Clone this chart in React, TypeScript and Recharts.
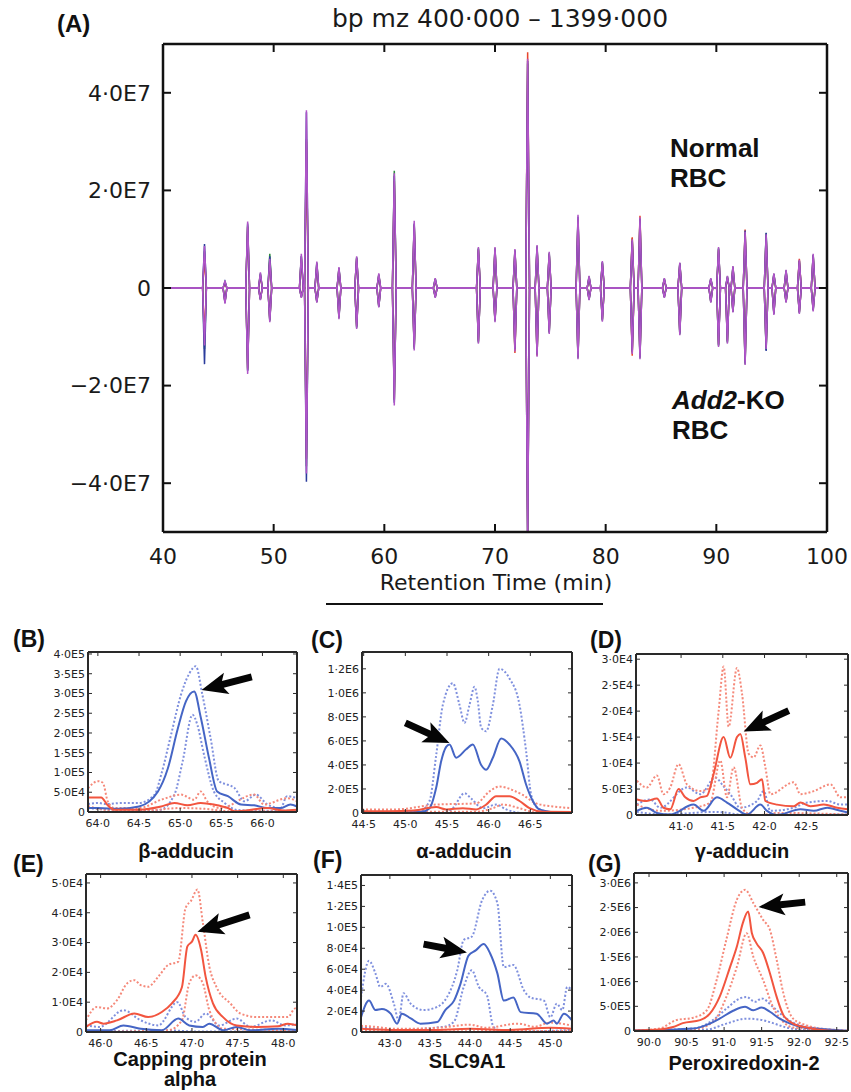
import React from "react";
import { Line, LineChart, ReferenceLine, XAxis, YAxis } from "recharts";

const TICK_FONT = "'DejaVu Sans', sans-serif";
const LABEL_FONT = "'Liberation Sans', Arial, sans-serif";

// ---- Panel A: mirrored base-peak chromatogram (values in 1e6) ----
const A_PEAK_TIMES = [
  43.75, 45.6, 47.65, 48.8, 49.65, 52.5, 52.96, 53.9, 55.9, 57.5, 59.5, 60.9, 62.7,
  64.6, 68.5, 70.0, 71.8, 72.95, 73.8, 74.9, 77.5, 78.5, 79.7, 82.4, 83.1, 85.3,
  86.7, 89.5, 90.2, 91.0, 91.5, 92.6, 94.5, 95.2, 96.3, 97.5, 98.75,
];
const A_NORMAL_PURPLE = [
  8.6, 1.5, 13.6, 3.2, 6.0, 7.0, 36.4, 5.4, 4.3, 6.5, 3.0, 23.5, 13.8,
  2.0, 8.4, 8.4, 8.0, 47.0, 8.8, 7.4, 15.0, 2.5, 5.5, 10.0, 14.5, 2.0,
  5.2, 2.0, 8.4, 2.5, 4.5, 11.5, 11.0, 3.0, 3.7, 5.8, 7.0,
];
const A_NORMAL_BLUE = [
  9.0, 1.3, 13.2, 2.8, 6.5, 6.5, 36.0, 5.0, 4.0, 6.2, 2.6, 23.0, 13.2,
  1.8, 8.0, 8.0, 7.6, 46.5, 8.4, 7.0, 14.6, 2.2, 5.2, 9.6, 14.2, 1.8,
  5.0, 1.8, 8.0, 2.2, 4.2, 11.8, 11.3, 2.8, 3.5, 5.5, 6.7,
];
const A_NORMAL_RED = [
  6.0, 1.0, 12.5, 2.5, 5.5, 6.0, 30.0, 4.6, 3.8, 6.0, 2.5, 22.0, 12.8,
  1.5, 7.8, 7.8, 7.5, 48.3, 8.0, 6.8, 14.0, 2.0, 5.0, 10.4, 14.8, 1.6,
  4.8, 1.6, 7.8, 2.0, 4.0, 12.0, 10.5, 2.6, 3.2, 6.0, 6.5,
];
const A_NORMAL_GREEN = [
  7.5, 1.2, 12.8, 3.0, 7.0, 6.5, 30.5, 5.2, 4.1, 6.3, 2.8, 24.0, 13.0,
  1.9, 8.2, 8.2, 7.8, 46.0, 8.6, 7.2, 14.2, 2.4, 5.3, 10.2, 14.0, 1.9,
  5.1, 1.9, 8.2, 2.4, 4.4, 11.0, 11.2, 2.9, 3.6, 5.6, 6.8,
];
const A_KO_PURPLE = [
  11.8, 3.2, 17.6, 2.5, 7.0, 2.0, 38.0, 3.0, 6.4, 8.4, 4.0, 24.1, 12.8,
  2.0, 11.4, 7.0, 13.0, 52.0, 14.1, 9.4, 14.6, 2.5, 6.9, 13.5, 14.6, 2.0,
  9.7, 3.0, 12.1, 11.4, 5.0, 15.8, 12.5, 5.5, 3.0, 5.3, 4.8,
];
const A_KO_BLUE = [
  15.6, 3.0, 17.0, 2.3, 6.6, 1.8, 39.7, 2.8, 6.0, 8.0, 3.8, 23.5, 12.2,
  1.8, 11.0, 6.6, 12.5, 51.0, 13.6, 9.0, 14.2, 2.3, 6.5, 13.0, 14.2, 1.8,
  9.3, 2.8, 11.7, 11.0, 4.8, 15.4, 12.9, 5.2, 2.8, 5.0, 4.5,
];
const A_KO_RED = [
  10.0, 2.8, 16.5, 2.2, 6.4, 1.7, 35.0, 2.7, 5.8, 7.8, 3.6, 22.8, 12.0,
  1.7, 10.8, 6.5, 13.3, 50.0, 13.9, 8.8, 14.0, 2.2, 6.4, 13.9, 14.0, 1.7,
  9.0, 2.7, 11.5, 10.8, 4.6, 15.0, 12.2, 5.0, 2.7, 4.9, 4.3,
];
const A_KO_GREEN = [
  12.5, 2.9, 16.8, 2.4, 6.8, 1.9, 36.5, 2.9, 6.2, 8.2, 3.9, 23.0, 12.5,
  1.9, 11.2, 6.8, 12.8, 51.0, 13.8, 9.2, 14.4, 2.4, 6.7, 13.2, 14.4, 1.9,
  9.5, 2.9, 11.9, 11.2, 4.9, 15.6, 12.7, 5.3, 2.9, 5.1, 4.6,
];
const A_X_TICKS = [40, 50, 60, 70, 80, 90, 100];
const A_Y_TICKS = [-4e7, -2e7, 0, 2e7, 4e7];

const A_TRACES = [
  { key: "ng", values: A_NORMAL_GREEN, sign: 1, color: "#2e8b3e" },
  { key: "nr", values: A_NORMAL_RED, sign: 1, color: "#e8462d" },
  { key: "nb", values: A_NORMAL_BLUE, sign: 1, color: "#2b3c9c" },
  { key: "kg", values: A_KO_GREEN, sign: -1, color: "#2e8b3e" },
  { key: "kr", values: A_KO_RED, sign: -1, color: "#e8462d" },
  { key: "kb", values: A_KO_BLUE, sign: -1, color: "#2b3c9c" },
  { key: "np", values: A_NORMAL_PURPLE, sign: 1, color: "#b055c8" },
  { key: "kp", values: A_KO_PURPLE, sign: -1, color: "#b055c8" },
];

// each peak is drawn as apex plus a zero point either side
function buildChromatogram() {
  const half = 0.17;
  const zero = (t: number) => {
    const row: Record<string, number> = { t };
    A_TRACES.forEach((tr) => (row[tr.key] = 0));
    return row;
  };
  const rows = [zero(40), zero(100)];
  A_PEAK_TIMES.forEach((t, i) => {
    const apex: Record<string, number> = { t };
    A_TRACES.forEach((tr) => (apex[tr.key] = tr.sign * tr.values[i] * 1e6));
    rows.push(zero(t - half), apex, zero(t + half));
  });
  return rows.sort((a, b) => a.t - b.t);
}

// ---- Panels B-G: [retention time, intensity in panel unit] ----
const B_BLUE = [[63.88, 1.0], [64.0, 1.0], [64.25, 0.8], [64.5, 1.4], [64.73, 5.2], [64.85, 11], [64.97, 21], [65.07, 28], [65.17, 30.5], [65.25, 24], [65.35, 13.7], [65.45, 5.2], [65.58, 4.0], [65.74, 1.9], [65.9, 1.7], [66.06, 1.0], [66.22, 1.0], [66.34, 1.9], [66.42, 1.4]];
const B_BLUE_HI = [[63.88, 2.0], [64.0, 2.3], [64.1, 2.0], [64.3, 2.3], [64.5, 2.3], [64.69, 4.4], [64.77, 9.5], [64.89, 19.6], [65.01, 29.7], [65.11, 35], [65.19, 36.9], [65.27, 29.7], [65.37, 18.7], [65.47, 7.8], [65.58, 6.9], [65.66, 6.1], [65.78, 2.7], [65.92, 4.4], [66.06, 1.9], [66.22, 1.0], [66.3, 4.0], [66.42, 3.5]];
const B_BLUE_LO = [[63.88, 1.0], [64.2, 0.5], [64.5, 0.3], [64.75, 0.5], [64.93, 4.4], [65.03, 12.8], [65.15, 24.6], [65.21, 22], [65.29, 14.5], [65.41, 5.2], [65.54, 2.3], [65.7, 0.5], [66.0, 0.3], [66.42, 0.3]];
const B_RED = [[63.88, 3.7], [64.04, 3.7], [64.12, 1.7], [64.2, 0.6], [64.5, 0.6], [64.77, 1.4], [64.93, 2.3], [65.09, 1.7], [65.25, 2.3], [65.41, 1.9], [65.58, 1.0], [65.66, 0.2], [65.8, 0.4], [66.06, 1.0], [66.25, 0.4], [66.42, 0.6]];
const B_RED_HI = [[63.88, 6.0], [64.0, 7.8], [64.06, 7.4], [64.12, 2.7], [64.2, 1.0], [64.5, 1.0], [64.77, 3.1], [65.01, 4.4], [65.17, 3.1], [65.25, 5.2], [65.33, 2.7], [65.49, 1.0], [65.9, 4.4], [66.02, 1.9], [66.3, 3.5], [66.42, 2.7]];
const B_RED_LO = [[63.88, 1.5], [64.1, 0.5], [64.5, 0.2], [65.0, 1.0], [65.3, 0.8], [65.6, 0.2], [66.42, 0.2]];

const C_BLUE = [[44.48, 0], [45.2, 0.1], [45.29, 0.4], [45.37, 2.1], [45.43, 4.3], [45.49, 5.5], [45.53, 5.7], [45.61, 4.6], [45.73, 5.3], [45.81, 5.7], [45.91, 4.0], [45.97, 3.6], [46.05, 4.6], [46.15, 6.2], [46.25, 5.7], [46.37, 4.3], [46.45, 2.35], [46.53, 1.0], [46.61, 0.3], [46.8, 0.05], [47.0, 0]];
const C_BLUE_HI = [[44.48, 0], [45.16, 0.1], [45.29, 1.0], [45.37, 4.8], [45.45, 9.0], [45.57, 10.8], [45.65, 9.0], [45.71, 7.5], [45.77, 9.0], [45.83, 10.5], [45.87, 9.3], [45.91, 7.1], [45.97, 6.8], [46.05, 9.0], [46.13, 12.0], [46.25, 11.2], [46.37, 9.0], [46.45, 5.1], [46.51, 1.5], [46.59, 0.4], [46.72, 0.1], [47.0, 0]];
const C_BLUE_LO = [[44.48, 0], [45.45, 0], [45.57, 0.4], [45.71, 1.65], [45.79, 1.2], [45.93, 0.4], [46.09, 0.7], [46.21, 0.3], [46.4, 0], [47.0, 0]];
const C_RED = [[44.48, 0.15], [44.8, 0.15], [45.1, 0.2], [45.37, 0.5], [45.49, 0.3], [45.69, 0.4], [45.85, 0.3], [45.97, 0.7], [46.09, 1.4], [46.25, 1.4], [46.37, 1.0], [46.49, 0.4], [46.65, 0.1], [47.0, 0.08]];
const C_RED_HI = [[44.48, 0.3], [44.88, 0.3], [45.37, 0.7], [45.85, 0.8], [46.01, 1.8], [46.13, 2.2], [46.29, 1.9], [46.41, 1.5], [46.57, 0.8], [46.77, 0.55], [47.0, 0.4]];
const C_RED_LO = [[44.48, 0.1], [45.85, 0.1], [46.05, 0.4], [46.17, 0.7], [46.37, 0.4], [46.57, 0.05], [47.0, 0.02]];

const D_BLUE = [[40.47, 0.8], [40.59, 1.4], [40.71, 0.4], [40.87, 0.1], [41.15, 2.0], [41.27, 0.8], [41.43, 3.4], [41.55, 2.4], [41.67, 1.1], [41.79, 0.1], [41.95, 2.0], [42.03, 0.8], [42.15, 0], [42.43, 1.1], [42.59, 0.8], [42.75, 1.4], [42.91, 0.8], [43.0, 0.5]];
const D_BLUE_HI = [[40.47, 2.0], [40.63, 3.0], [40.75, 1.4], [41.07, 5.3], [41.23, 4.0], [41.41, 7.2], [41.51, 5.5], [41.59, 4.0], [41.71, 1.4], [41.91, 2.7], [41.99, 4.6], [42.07, 0.8], [42.35, 1.4], [42.51, 2.4], [42.75, 2.7], [42.91, 2.0], [43.0, 2.0]];
const D_BLUE_LO = [[40.47, 0.6], [40.8, 0.1], [41.4, 0.6], [41.8, 0], [43.0, 0.1]];
const D_RED = [[40.47, 3.0], [40.59, 2.7], [40.71, 3.2], [40.79, 1.4], [40.87, 1.1], [40.97, 5.0], [41.05, 3.4], [41.15, 2.7], [41.23, 3.4], [41.31, 3.7], [41.39, 7.9], [41.51, 15], [41.59, 11], [41.67, 15], [41.71, 15.6], [41.77, 11], [41.83, 5.9], [41.91, 6.2], [41.97, 6.9], [42.01, 2.7], [42.15, 2.0], [42.35, 1.7], [42.43, 2.4], [42.55, 1.7], [42.71, 2.0], [42.87, 1.4], [43.0, 1.1]];
const D_RED_HI = [[40.47, 6.6], [40.59, 5.3], [40.71, 7.6], [40.79, 4.0], [40.87, 5.3], [40.97, 9.8], [41.07, 5.9], [41.23, 4.6], [41.35, 5.3], [41.45, 20], [41.51, 28.6], [41.57, 17], [41.67, 28.3], [41.73, 23.4], [41.81, 11.8], [41.87, 11.1], [41.95, 13.4], [42.01, 9.2], [42.07, 4.0], [42.35, 6.3], [42.43, 4.0], [42.59, 4.6], [42.79, 5.9], [42.91, 3.4], [43.0, 3.4]];
const D_RED_LO = [[40.47, 2.0], [40.75, 0.8], [41.15, 1.4], [41.35, 2.4], [41.47, 10.5], [41.55, 3.4], [41.63, 9.2], [41.73, 1.4], [41.83, 0.1], [41.95, 0], [42.15, 0.4], [43.0, 0.1]];

const E_BLUE = [[45.84, 0.6], [46.1, 0.6], [46.25, 2.2], [46.44, 1.1], [46.67, 0.6], [46.85, 4.5], [46.97, 2.2], [47.12, 1.7], [47.19, 2.8], [47.34, 0.6], [47.49, 1.7], [47.64, 0.6], [47.94, 1.1], [48.16, 0.6]];
const E_BLUE_HI = [[45.84, 2.2], [45.99, 1.7], [46.25, 7.3], [46.44, 3.9], [46.63, 2.2], [46.84, 10], [46.93, 5.0], [47.04, 3.4], [47.15, 6.2], [47.3, 2.2], [47.49, 4.5], [47.64, 1.7], [47.87, 3.9], [48.02, 2.2], [48.16, 2.8]];
const E_BLUE_LO = [[45.84, 0.2], [46.8, 0.5], [47.0, 0.2], [48.16, 0.2]];
const E_RED = [[45.84, 1.7], [45.96, 3.4], [46.03, 2.8], [46.18, 3.9], [46.37, 6.2], [46.52, 5.0], [46.67, 6.7], [46.78, 9.6], [46.89, 15], [46.95, 28.7], [47.0, 30.3], [47.04, 32.6], [47.1, 27.5], [47.15, 18.5], [47.23, 9.6], [47.34, 5.0], [47.49, 2.2], [47.72, 1.7], [47.94, 1.9], [48.05, 2.8], [48.16, 2.2]];
const E_RED_HI = [[45.84, 3.9], [45.96, 8.4], [46.07, 7.9], [46.18, 10.7], [46.29, 16.3], [46.37, 17.4], [46.44, 15.7], [46.52, 15.2], [46.63, 18.5], [46.74, 22.5], [46.85, 23.6], [46.93, 41.6], [46.99, 44], [47.06, 47.8], [47.12, 36.5], [47.19, 22], [47.27, 15], [47.42, 9.6], [47.53, 6.2], [47.72, 5.0], [47.94, 5.0], [48.05, 5.0], [48.13, 7.9], [48.16, 6.7]];
const E_RED_LO = [[45.84, 0], [46.74, 0.6], [46.89, 3.9], [46.97, 16.3], [47.04, 19], [47.12, 16.3], [47.19, 7.3], [47.34, 1.1], [48.16, 0.6]];

const F_BLUE = [[42.64, 1.4], [42.74, 3.0], [42.82, 2.1], [42.9, 2.2], [43.01, 1.75], [43.09, 0.8], [43.15, 1.75], [43.26, 1.3], [43.38, 0.8], [43.59, 0.95], [43.69, 2.1], [43.8, 3.0], [43.88, 4.6], [43.98, 7.3], [44.07, 7.8], [44.17, 8.4], [44.25, 7.5], [44.34, 5.6], [44.42, 3.0], [44.54, 3.3], [44.63, 1.9], [44.83, 1.75], [44.96, 0.8], [45.04, 1.1], [45.08, 0.8], [45.17, 1.75], [45.27, 1.1]];
const F_BLUE_HI = [[42.64, 3.3], [42.74, 6.8], [42.82, 5.6], [42.88, 4.3], [42.95, 4.6], [43.05, 2.7], [43.11, 1.1], [43.17, 3.7], [43.26, 2.7], [43.42, 2.1], [43.59, 2.4], [43.71, 3.3], [43.84, 5.9], [43.92, 8.8], [44.02, 9.1], [44.15, 12.6], [44.25, 13.5], [44.34, 12.3], [44.42, 6.2], [44.54, 6.4], [44.67, 4.0], [44.75, 3.3], [44.92, 3.0], [45.0, 1.4], [45.08, 2.7], [45.15, 2.1], [45.21, 4.3], [45.27, 4.0]];
const F_BLUE_LO = [[42.64, 0.5], [43.01, 0.2], [43.67, 0.5], [43.8, 1.0], [43.92, 4.3], [44.02, 5.9], [44.11, 4.3], [44.21, 3.5], [44.29, 0.5], [44.42, 0], [45.27, 0.2]];
const F_RED = [[42.64, 0.3], [43.0, 0.2], [43.5, 0.2], [44.0, 0.3], [44.5, 0.2], [45.0, 0.4], [45.27, 0.3]];
const F_RED_HI = [[42.64, 0.6], [42.8, 0.5], [43.1, 0.3], [43.6, 0.4], [44.0, 0.7], [44.2, 0.4], [44.6, 0.8], [44.8, 0.5], [45.0, 0.9], [45.27, 0.6]];
const F_RED_LO = [[42.64, 0.1], [43.5, 0.05], [44.5, 0.1], [45.27, 0.1]];

const G_BLUE = [[89.8, 0.1], [90.59, 0.5], [90.81, 1.5], [90.94, 2.5], [91.12, 4.1], [91.28, 4.9], [91.39, 4.2], [91.5, 4.75], [91.61, 3.9], [91.74, 2.5], [91.88, 1.5], [92.06, 0.7], [92.37, 0.3], [92.65, 0]];
const G_BLUE_HI = [[89.8, 0.1], [90.59, 0.5], [90.85, 2.2], [91.03, 4.5], [91.21, 6.6], [91.3, 6.9], [91.41, 5.9], [91.5, 6.6], [91.65, 4.9], [91.83, 2.5], [92.01, 1.15], [92.28, 0.5], [92.65, 0.1]];
const G_BLUE_LO = [[89.8, 0], [90.77, 0.3], [91.03, 1.5], [91.3, 2.5], [91.48, 2.3], [91.65, 1.6], [91.83, 0.7], [92.1, 0.2], [92.65, 0]];
const G_RED = [[89.8, 0.1], [90.14, 0.3], [90.32, 0.8], [90.45, 1.6], [90.68, 2.2], [90.81, 3.5], [90.94, 6.9], [91.08, 13], [91.17, 17.1], [91.25, 21.9], [91.32, 24.2], [91.37, 19.8], [91.43, 17.8], [91.52, 15.8], [91.61, 11.7], [91.7, 6.9], [91.79, 3.2], [91.92, 1.5], [92.1, 0.7], [92.37, 0.1], [92.65, 0]];
const G_RED_HI = [[89.8, 0.1], [90.14, 0.5], [90.36, 2.2], [90.59, 2.7], [90.77, 4.2], [90.9, 10.3], [91.03, 18.5], [91.17, 26.6], [91.28, 28.6], [91.39, 25.9], [91.52, 22.5], [91.61, 20.5], [91.7, 14.4], [91.79, 7.6], [91.92, 2.5], [92.1, 1.15], [92.28, 0.5], [92.65, 0.1]];
const G_RED_LO = [[89.8, 0], [90.59, 0.3], [90.85, 1.8], [91.03, 6.9], [91.17, 13], [91.3, 19.8], [91.39, 15], [91.52, 10.3], [91.65, 4.9], [91.79, 1.8], [91.92, 0.7], [92.65, 0]];

const BLUE = "#4565c5";
const BLUE_DOT = "#7f90de";
const RED = "#f2553f";
const RED_DOT = "#f5897a";

function sci(v: number) {
  if (v === 0) return "0";
  const sign = v < 0 ? "\u2212" : "";
  const a = Math.abs(v);
  const e = Math.floor(Math.log10(a) + 1e-9);
  const m = a / Math.pow(10, e);
  return sign + m.toFixed(1).replace(".", "\u00b7") + "E" + e;
}
const dec1 = (v: number) => v.toFixed(1).replace(".", "\u00b7");
const blank = () => "";

function Arrow(props: any) {
  const { x1, y1, x2, y2 } = props;
  if ([x1, y1, x2, y2].some((v) => typeof v !== "number" || isNaN(v))) return null;
  const len = Math.hypot(x2 - x1, y2 - y1) || 1;
  const ux = (x2 - x1) / len;
  const uy = (y2 - y1) / len;
  const nx = -uy;
  const ny = ux;
  const head = 22;
  const hw = 11;
  const sw = 3.5;
  const bx = x2 - ux * head;
  const by = y2 - uy * head;
  const pts = [
    [x1 + nx * sw, y1 + ny * sw],
    [bx + nx * sw, by + ny * sw],
    [bx - ux * 4 + nx * hw, by - uy * 4 + ny * hw],
    [x2, y2],
    [bx - ux * 4 - nx * hw, by - uy * 4 - ny * hw],
    [bx - nx * sw, by - ny * sw],
    [x1 - nx * sw, y1 - ny * sw],
  ];
  return <polygon points={pts.map((p) => p.join(",")).join(" ")} fill="#050505" />;
}

interface PanelProps {
  rect: { left: number; top: number; right: number; bottom: number };
  xDomain: [number, number];
  xTicks: number[];
  yMax: number;
  yTicks: number[];
  unit: number;
  blue: number[][];
  blueHi: number[][];
  blueLo: number[][];
  red: number[][];
  redHi: number[][];
  redLo: number[][];
  arrow: number[][];
}

function Panel(p: PanelProps) {
  const padL = 70, padT = 6, padR = 8, padB = 30;
  const yw = 70, xh = 24;
  const w = p.rect.right - p.rect.left;
  const h = p.rect.bottom - p.rect.top;
  const toPts = (arr: number[][]) => arr.map(([x, y]) => ({ x, y: y * p.unit }));
  const axisLine = { stroke: "#2a2a2a", strokeWidth: 2 };
  const tickLine = { stroke: "#2a2a2a", strokeWidth: 1 };
  const tick = { fontSize: 11, fill: "#222", fontFamily: TICK_FONT };
  const series = [
    { d: p.blueHi, c: BLUE_DOT, dash: "2 2" },
    { d: p.blueLo, c: BLUE_DOT, dash: "2 2" },
    { d: p.redHi, c: RED_DOT, dash: "2 2" },
    { d: p.redLo, c: RED_DOT, dash: "2 2" },
    { d: p.blue, c: BLUE, dash: undefined },
    { d: p.red, c: RED, dash: undefined },
  ];
  return (
    <div style={{ position: "absolute", left: p.rect.left - padL, top: p.rect.top - padT }}>
      <LineChart
        width={w + padL + padR}
        height={h + padT + padB}
        margin={{ top: padT - 1, left: padL - yw, right: padR - 1, bottom: padB - xh }}
      >
        <XAxis dataKey="x" type="number" domain={p.xDomain} ticks={p.xTicks} allowDataOverflow
          interval={0} height={xh} tick={tick} tickFormatter={dec1} tickSize={-4} tickMargin={11}
          axisLine={axisLine} tickLine={tickLine} />
        <XAxis xAxisId="m" dataKey="x" orientation="top" type="number" domain={p.xDomain} ticks={p.xTicks}
          allowDataOverflow interval={0} height={1} tickFormatter={blank} tickSize={-4}
          axisLine={axisLine} tickLine={tickLine} />
        <YAxis type="number" domain={[0, p.yMax]} ticks={p.yTicks} allowDataOverflow interval={0}
          width={yw} tick={tick} tickFormatter={sci} tickSize={-4} tickMargin={7}
          axisLine={axisLine} tickLine={tickLine} />
        <YAxis yAxisId="m" orientation="right" type="number" domain={[0, p.yMax]} ticks={p.yTicks}
          allowDataOverflow interval={0} width={1} tickFormatter={blank} tickSize={-4}
          axisLine={axisLine} tickLine={tickLine} />
        {series.map((s, i) => (
          <Line key={i} data={toPts(s.d)} dataKey="y" type="monotone" stroke={s.c}
            strokeWidth={2} strokeDasharray={s.dash} dot={false} isAnimationActive={false} />
        ))}
        <ReferenceLine
          segment={[
            { x: p.arrow[0][0], y: p.arrow[0][1] * p.unit },
            { x: p.arrow[1][0], y: p.arrow[1][1] * p.unit },
          ]}
          ifOverflow="visible"
          shape={Arrow}
        />
      </LineChart>
    </div>
  );
}

export default function App() {
  const aData = buildChromatogram();
  const aAxis = { stroke: "#111", strokeWidth: 2.5 };
  const aTickLine = { stroke: "#111", strokeWidth: 2 };
  const aTick = { fontSize: 22, fill: "#1a1a1a", fontFamily: TICK_FONT };
  return (
    <div style={{ position: "absolute", left: 0, top: 0, width: 851, height: 1092, background: "#fff" }}>
      <div style={{ position: "absolute", left: 0, top: 0 }}>
        <LineChart width={851} height={600} data={aData} margin={{ top: 43, right: 23, bottom: 28, left: 83 }}>
          <XAxis dataKey="t" type="number" domain={[40, 100]} ticks={A_X_TICKS} allowDataOverflow interval={0}
            height={40} tick={aTick} tickSize={-8} tickMargin={24} axisLine={aAxis} tickLine={aTickLine} />
          <XAxis xAxisId="m" dataKey="t" orientation="top" type="number" domain={[40, 100]} ticks={A_X_TICKS}
            allowDataOverflow interval={0} height={1} tickFormatter={blank} tickSize={-8}
            axisLine={aAxis} tickLine={aTickLine} />
          <YAxis type="number" domain={[-5e7, 5e7]} ticks={A_Y_TICKS} allowDataOverflow interval={0}
            width={80} tick={aTick} tickFormatter={sci} tickSize={-8} tickMargin={20}
            axisLine={aAxis} tickLine={aTickLine} />
          <YAxis yAxisId="m" orientation="right" type="number" domain={[-5e7, 5e7]} ticks={A_Y_TICKS}
            allowDataOverflow interval={0} width={1} tickFormatter={blank} tickSize={-8}
            axisLine={aAxis} tickLine={aTickLine} />
          {A_TRACES.map((tr) => (
            <Line key={tr.key} dataKey={tr.key} type="linear" stroke={tr.color} strokeWidth={1.5}
              dot={false} isAnimationActive={false} />
          ))}
        </LineChart>
      </div>

      <Panel rect={{ left: 88, top: 652, right: 297, bottom: 812 }} xDomain={[63.88, 66.42]}
        xTicks={[64, 64.5, 65, 65.5, 66]} yMax={4.05e5} yTicks={[0, 5e4, 1e5, 1.5e5, 2e5, 2.5e5, 3e5, 3.5e5, 4e5]}
        unit={1e4} blue={B_BLUE} blueHi={B_BLUE_HI} blueLo={B_BLUE_LO} red={B_RED} redHi={B_RED_HI} redLo={B_RED_LO}
        arrow={[[65.87, 34.2], [65.26, 30.9]]} />
      <Panel rect={{ left: 362, top: 652, right: 572, bottom: 813 }} xDomain={[44.48, 47.0]}
        xTicks={[44.5, 45, 45.5, 46, 46.5]} yMax={1.34e6} yTicks={[0, 2e5, 4e5, 6e5, 8e5, 1e6, 1.2e6]}
        unit={1e5} blue={C_BLUE} blueHi={C_BLUE_HI} blueLo={C_BLUE_LO} red={C_RED} redHi={C_RED_HI} redLo={C_RED_LO}
        arrow={[[45.0, 7.5], [45.53, 5.83]]} />
      <Panel rect={{ left: 636, top: 654, right: 848, bottom: 815 }} xDomain={[40.46, 43.0]}
        xTicks={[41, 41.5, 42, 42.5]} yMax={3.1e4} yTicks={[0, 5e3, 1e4, 1.5e4, 2e4, 2.5e4, 3e4]}
        unit={1e3} blue={D_BLUE} blueHi={D_BLUE_HI} blueLo={D_BLUE_LO} red={D_RED} redHi={D_RED_HI} redLo={D_RED_LO}
        arrow={[[42.29, 20.1], [41.75, 16.1]]} />
      <Panel rect={{ left: 86, top: 874, right: 297, bottom: 1032 }} xDomain={[45.84, 48.15]}
        xTicks={[46, 46.5, 47, 47.5, 48]} yMax={5.3e4} yTicks={[0, 1e4, 2e4, 3e4, 4e4, 5e4]}
        unit={1e3} blue={E_BLUE} blueHi={E_BLUE_HI} blueLo={E_BLUE_LO} red={E_RED} redHi={E_RED_HI} redLo={E_RED_LO}
        arrow={[[47.63, 39.3], [47.06, 33.6]]} />
      <Panel rect={{ left: 361, top: 875, right: 572, bottom: 1032 }} xDomain={[42.64, 45.27]}
        xTicks={[43, 43.5, 44, 44.5, 45]} yMax={1.5e5} yTicks={[0, 2e4, 4e4, 6e4, 8e4, 1e5, 1.2e5, 1.4e5]}
        unit={1e4} blue={F_BLUE} blueHi={F_BLUE_HI} blueLo={F_BLUE_LO} red={F_RED} redHi={F_RED_HI} redLo={F_RED_LO}
        arrow={[[43.42, 8.4], [43.96, 7.6]]} />
      <Panel rect={{ left: 634, top: 873, right: 848, bottom: 1031 }} xDomain={[89.8, 92.65]}
        xTicks={[90, 90.5, 91, 91.5, 92, 92.5]} yMax={3.2e6} yTicks={[0, 5e5, 1e6, 1.5e6, 2e6, 2.5e6, 3e6]}
        unit={1e5} blue={G_BLUE} blueHi={G_BLUE_HI} blueLo={G_BLUE_LO} red={G_RED} redHi={G_RED_HI} redLo={G_RED_LO}
        arrow={[[92.08, 26.1], [91.46, 25.1]]} />

      <svg width={851} height={1092} style={{ position: "absolute", left: 0, top: 0, pointerEvents: "none" }}>
        <g fontFamily={LABEL_FONT} fontWeight="bold" fill="#111">
          <text x={57} y={32} fontSize={24}>(A)</text>
          <text x={670} y={157} fontSize={26}>Normal</text>
          <text x={670} y={187} fontSize={26}>RBC</text>
          <text x={672} y={409} fontSize={26}>
            <tspan fontStyle="italic">Add2</tspan>-KO
          </text>
          <text x={672} y={439} fontSize={26}>RBC</text>
          <text x={13} y={647} fontSize={23}>(B)</text>
          <text x={311} y={648} fontSize={23}>(C)</text>
          <text x={590} y={648} fontSize={23}>(D)</text>
          <text x={13} y={872} fontSize={23}>(E)</text>
          <text x={313} y={868} fontSize={23}>(F)</text>
          <text x={588} y={872} fontSize={23}>(G)</text>
          <g fontSize={20} textAnchor="middle">
            <text x={186} y={858}>β-adducin</text>
            <text x={464} y={858}>α-adducin</text>
            <text x={742} y={858}>γ-adducin</text>
            <text x={190} y={1066}>Capping protein</text>
            <text x={190} y={1086}>alpha</text>
            <text x={467} y={1068}>SLC9A1</text>
            <text x={744} y={1070}>Peroxiredoxin-2</text>
          </g>
        </g>
        <g fontFamily={TICK_FONT} fill="#1a1a1a" textAnchor="middle">
          <text x={500} y={27} fontSize={25}>bp mz 400·000 – 1399·000</text>
          <text x={496} y={590} fontSize={22}>Retention Time (min)</text>
        </g>
        <line x1={326} y1={604} x2={603} y2={604} stroke="#111" strokeWidth={2} />
      </svg>
    </div>
  );
}
